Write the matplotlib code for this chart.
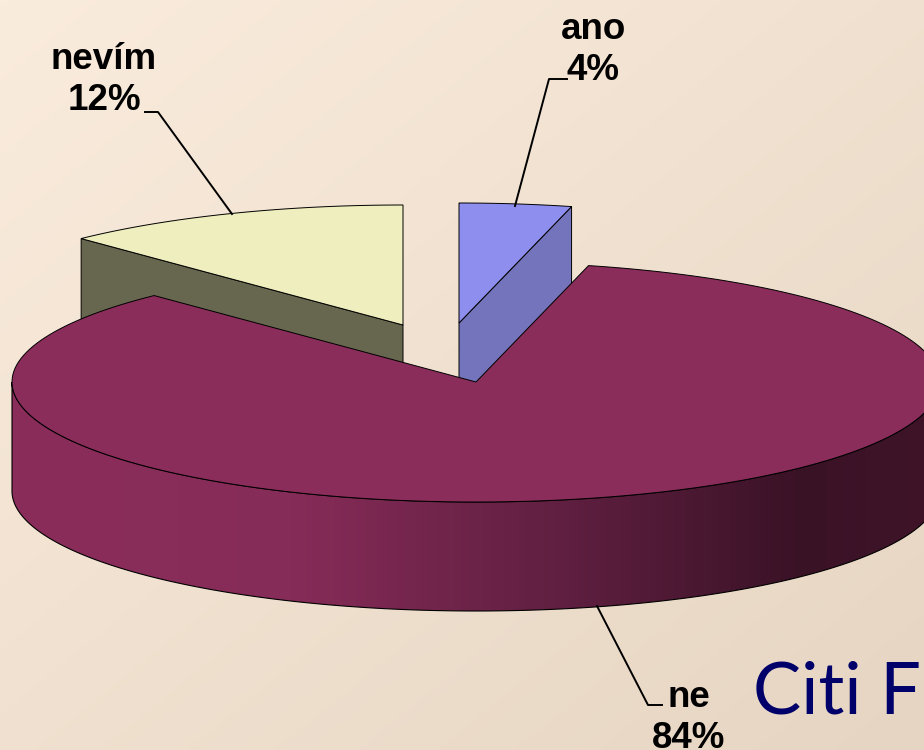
import numpy as np
import matplotlib
matplotlib.use("Agg")
import matplotlib.pyplot as plt
from matplotlib.patches import Polygon
from matplotlib.colors import LinearSegmentedColormap

labels = ["ano", "ne", "nevím"]
values = [3.9, 83.9, 12.2]
top_colors = ["#8E8EEE", "#8B2D5B", "#EEEEBE"]
side_colors = ["#7474BC", "#8B2D5B", "#67674F"]
centers = [(459, 323), (476, 382), (403, 325)]

START_ANGLE = 90
RX = 464
RY = 120
DEPTH = 109

plt.rcParams['font.family'] = ['Liberation Sans', 'DejaVu Sans']

fig = plt.figure(figsize=(9.24, 7.5), dpi=100)
ax = fig.add_axes([0, 0, 1, 1])
ax.set_xlim(0, 924)
ax.set_ylim(750, 0)
ax.axis('off')

# background gradient, light top left to darker bottom right
gx, gy = np.meshgrid(np.linspace(0, 1, 200), np.linspace(0, 1, 200))
bg_cmap = LinearSegmentedColormap.from_list("bg", ["#FAECDD", "#E6D5C2"])
ax.imshow((gx + gy) / 2, cmap=bg_cmap, extent=(0, 924, 750, 0), aspect='auto', zorder=0)


def arc(cx, cy, t0, t1, drop=0):
    t = np.radians(np.linspace(t0, t1, 200))
    return np.column_stack([cx + RX * np.cos(t), cy - RY * np.sin(t) + drop])


def wedge_poly(cx, cy, t0, t1):
    return np.vstack([[cx, cy], arc(cx, cy, t0, t1)])


def cut_face(cx, cy, t):
    p = arc(cx, cy, t, t)[0]
    return [[cx, cy], p, [p[0], p[1] + DEPTH], [cx, cy + DEPTH]]


# slice angles come from the values, going clockwise
angles = {}
a = START_ANGLE
for name, v in zip(labels, values):
    angles[name] = (a, a - v * 3.6)
    a -= v * 3.6

# back slices first, cut face is the edge that looks at the viewer
for i, edge in [(0, 1), (2, 0)]:
    cx, cy = centers[i]
    t_pair = angles[labels[i]]
    ax.add_patch(Polygon(cut_face(cx, cy, t_pair[edge]), closed=True, fc=side_colors[i],
                         ec='black', lw=0.7, zorder=2))
    ax.add_patch(Polygon(wedge_poly(cx, cy, t_pair[0], t_pair[1]), closed=True, fc=top_colors[i],
                         ec='black', lw=0.7, zorder=3))

# big slice, side wall with horizontal shading
cx, cy = centers[1]
t0, t1 = angles["ne"]
wall = np.vstack([arc(cx, cy, 0, -180), arc(cx, cy, -180, 0, DEPTH)])
wall_patch = Polygon(wall, closed=True, fc='none', ec='black', lw=0.8, zorder=5)
ax.add_patch(wall_patch)
wall_cmap = LinearSegmentedColormap.from_list(
    "wall", [(0, "#8B2D5B"), (0.3, "#862C58"), (0.6, "#5F1F40"), (0.85, "#3A1226"), (1, "#3F1429")])
im = ax.imshow(np.linspace(0, 1, 300).reshape(1, -1), cmap=wall_cmap,
               extent=(cx - RX, cx + RX, 750, 0), aspect='auto', zorder=4)
im.set_clip_path(wall_patch)
ax.set_xlim(0, 924)
ax.set_ylim(750, 0)
ax.add_patch(Polygon(wedge_poly(cx, cy, t0, t1), closed=True, fc=top_colors[1], ec='black', lw=0.7, zorder=6))

# leader lines
ax.plot([567, 549, 515], [79, 79, 206], color='black', lw=1.4, zorder=7)
ax.plot([145, 158, 232], [112, 112, 214], color='black', lw=1.4, zorder=7)
ax.plot([597, 648, 662], [606, 705, 705], color='black', lw=1.4, zorder=7)

# data labels
fs = 26.5
for i, (x, y) in zip([0, 2, 1], [(593, 50), (104, 80), (689, 718)]):
    ax.text(x, y, "%s\n%d%%" % (labels[i], round(values[i])), ha='center', va='center', fontsize=fs,
            fontweight='bold', color='black', linespacing=1.2, zorder=8)

# logo text, runs off the right side
ax.text(753, 714, "Citi Fo", ha='left', va='baseline', fontsize=52, family='Lato',
        color='#00006A', zorder=8, clip_on=True)

fig.savefig("out.png", dpi=100)
